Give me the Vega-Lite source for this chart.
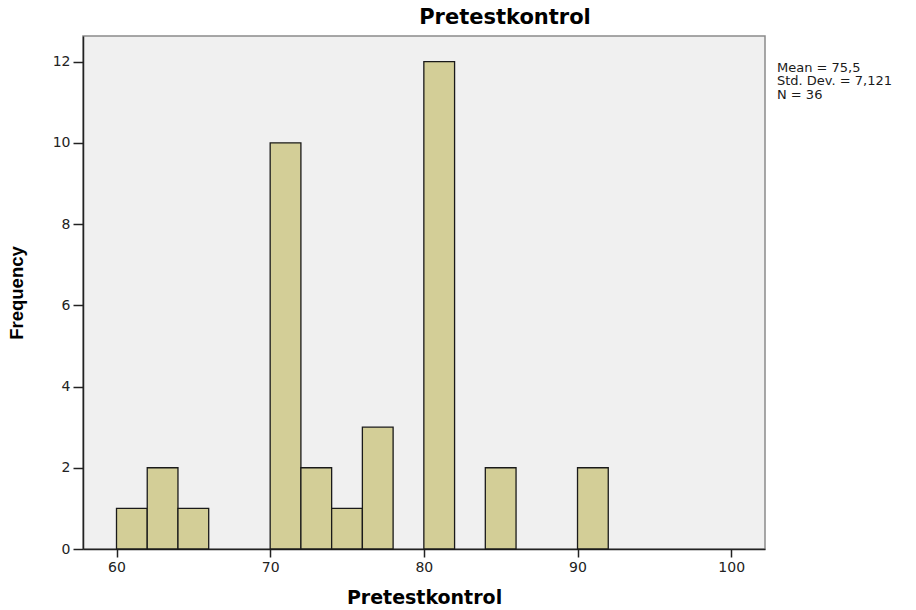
{
  "$schema": "https://vega.github.io/schema/vega-lite/v6.json",
  "autosize": "none",
  "width": 682,
  "height": 513,
  "padding": {"left": 83, "top": 36, "right": 151, "bottom": 61},
  "background": "white",
  "config": {
    "view": {"fill": "#f0f0f0", "stroke": "#8a8a8a", "strokeWidth": 1.5},
    "axis": {"grid": false, "domainColor": "#222222", "domainWidth": 1.5, "tickColor": "#222222", "tickWidth": 1.5,
      "labelFont": "DejaVu Sans", "labelFontSize": 14, "labelColor": "#222222", "titleColor": "#000000"}
  },
  "title": {
    "text": "Pretestkontrol",
    "font": "DejaVu Sans", "fontSize": 21, "fontWeight": "bold", "color": "#000000",
    "anchor": "middle", "dx": 81, "offset": 8
  },
  "layer": [
    {
      "data": {
        "values": [
          {"bin_start": 60, "bin_end": 62, "count": 1},
          {"bin_start": 62, "bin_end": 64, "count": 2},
          {"bin_start": 64, "bin_end": 66, "count": 1},
          {"bin_start": 70, "bin_end": 72, "count": 10},
          {"bin_start": 72, "bin_end": 74, "count": 2},
          {"bin_start": 74, "bin_end": 76, "count": 1},
          {"bin_start": 76, "bin_end": 78, "count": 3},
          {"bin_start": 80, "bin_end": 82, "count": 12},
          {"bin_start": 84, "bin_end": 86, "count": 2},
          {"bin_start": 90, "bin_end": 92, "count": 2}
        ]
      },
      "mark": {"type": "rect", "fill": "#d3ce97", "stroke": "#1a1a1a", "strokeWidth": 1.3},
      "encoding": {
        "x": {"field": "bin_start", "type": "quantitative",
          "scale": {"domain": [57.82, 102.2], "nice": false, "zero": false},
          "axis": {"values": [60, 70, 80, 90, 100], "tickSize": 8, "labelPadding": 3,
            "title": "Pretestkontrol", "titleFont": "DejaVu Sans", "titleFontSize": 19, "titleFontWeight": "bold", "titlePadding": 14}},
        "x2": {"field": "bin_end"},
        "y": {"field": "count", "type": "quantitative",
          "scale": {"domain": [0, 12.63], "nice": false},
          "axis": {"values": [0, 2, 4, 6, 8, 10, 12], "tickSize": 10, "labelPadding": 3,
            "title": "Frequency", "titleFont": "Liberation Sans", "titleFontSize": 18.5, "titleFontWeight": "bold", "titlePadding": 26}},
        "y2": {"datum": 0}
      }
    },
    {
      "data": {"values": [{"stats": ["Mean = 75,5", "Std. Dev. = 7,121", "N = 36"]}]},
      "mark": {"type": "text", "align": "left", "baseline": "top", "font": "DejaVu Sans", "fontSize": 13, "lineHeight": 13.5, "color": "#1a1a1a"},
      "encoding": {
        "x": {"datum": 102.98},
        "y": {"datum": 11.99},
        "text": {"field": "stats"}
      }
    }
  ]
}
